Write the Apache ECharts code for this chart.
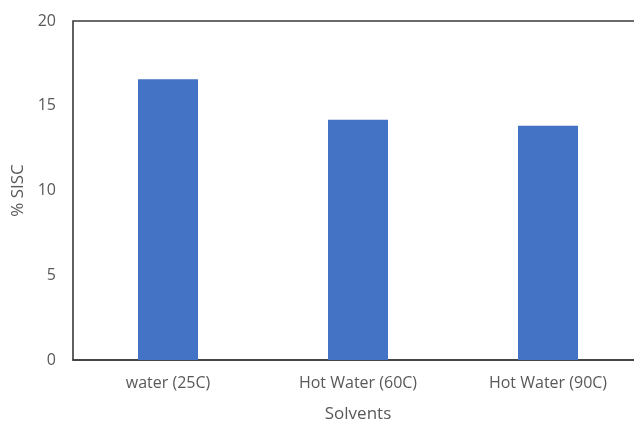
<!DOCTYPE html>
<html>
<head>
<meta charset="utf-8">
<script src="https://cdn.jsdelivr.net/npm/echarts@6/dist/echarts.min.js"></script>
<style>
  html, body { margin: 0; padding: 0; background: #fff; }
  #chart { width: 634px; height: 423px; }
</style>
</head>
<body>
<div id="chart"></div>
<script>
// Solvent categories and the measured % SISC for each
const categories = ['water (25C)', 'Hot Water (60C)', 'Hot Water (90C)'];
const sisc = [16.57, 14.18, 13.82];
const yTicks = [0, 5, 10, 15, 20];

const textColor = '#595959';
const fontFamily = '"Open Sans", "Liberation Sans", sans-serif';

const chart = echarts.init(document.getElementById('chart'), null, { renderer: 'canvas' });
chart.setOption({
  animation: false,
  backgroundColor: '#ffffff',
  grid: {
    left: 73, right: -9, top: 21, bottom: 63,
    outerBoundsMode: 'none',
    containLabel: false,
    show: true, borderColor: '#3a3a3a', borderWidth: 1.6, backgroundColor: 'transparent'
  },
  xAxis: {
    type: 'category',
    data: categories,
    name: 'Solvents',
    nameLocation: 'middle',
    nameGap: 46,
    nameTextStyle: { color: textColor, fontSize: 17, fontFamily },
    axisLine: { show: true, lineStyle: { color: '#3a3a3a', width: 1.6 } },
    axisTick: { show: false },
    axisLabel: { color: textColor, fontSize: 16, fontFamily, margin: 15 }
  },
  yAxis: {
    type: 'value',
    min: yTicks[0],
    max: yTicks[yTicks.length - 1],
    interval: 5,
    name: '% SISC',
    nameLocation: 'middle',
    nameGap: 41,
    nameTextStyle: { color: textColor, fontSize: 17, fontFamily },
    axisLine: { show: false },
    axisTick: { show: false },
    splitLine: { show: false },
    axisLabel: { color: textColor, fontSize: 16, fontFamily, margin: 17 }
  },
  series: [{
    type: 'bar',
    data: sisc,
    barWidth: 60,
    itemStyle: { color: '#4472C4' }
  }]
});
</script>
</body>
</html>
